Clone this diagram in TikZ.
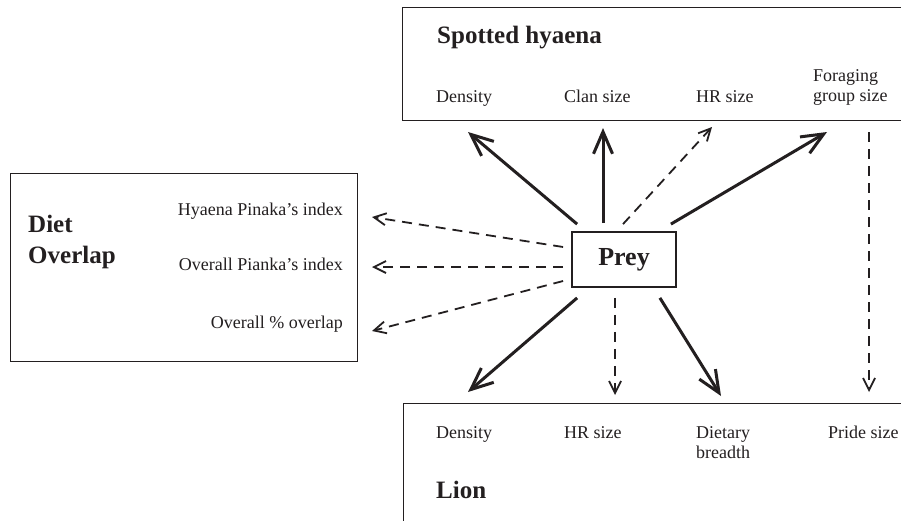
\documentclass[tikz,border=0pt]{standalone}
\usepackage{fontspec}
\setmainfont{Liberation Serif}
\usetikzlibrary{arrows.meta}
\definecolor{ink}{RGB}{35,31,32}
\begin{document}
\begin{tikzpicture}[x=1pt,y=-1pt,
  frame/.style={draw=ink,line width=1.3pt,inner sep=0pt,anchor=north west},
  lbl/.style={font=\fontsize{18}{20}\selectfont,text=ink,inner sep=0pt},
  headtxt/.style={font=\fontsize{25}{30}\selectfont\bfseries,text=ink,inner sep=0pt},
  strong/.style={draw=ink,line width=3pt,-{Straight Barb[length=22pt,width=19pt]}},
  weak/.style={draw=ink,line width=1.8pt,dash pattern=on 10pt off 7pt,-{Straight Barb[length=12pt,width=12pt]}}]
\useasboundingbox (0,0) rectangle (901,520);
\fill[white] (0,0) rectangle (901,520);

% boxes
\node[frame,minimum width=508pt,minimum height=113pt] (hy) at (402,7) {};
\node[frame,minimum width=347pt,minimum height=188pt] (diet) at (10,173) {};
\node[frame,minimum width=510pt,minimum height=130pt] (lion) at (403,403) {};
\node[draw=ink,line width=1.8pt,minimum width=104pt,minimum height=55pt,inner sep=0pt,
      font=\fontsize{26}{30}\selectfont\bfseries,text=ink] (prey) at (624,259.5) {Prey};

% Spotted hyaena texts
\node[headtxt,anchor=base west] (hyt) at (437,43) {Spotted hyaena};
\node[lbl,anchor=base west] (hd) at (436,102) {Density};
\node[lbl,anchor=base west] (hc) at (564,102) {Clan size};
\node[lbl,anchor=base west] (hh) at (696,102) {HR size};
\node[lbl,anchor=base west] (hf1) at (813,81) {Foraging};
\node[lbl,anchor=base west] (hf2) at (813,101) {group size};

% Diet overlap texts
\node[headtxt,anchor=base west] (dt1) at (28,232) {Diet};
\node[headtxt,anchor=base west] (dt2) at (28,263) {Overlap};
\node[lbl,anchor=base east] (d1) at (343,215) {Hyaena Pinaka’s index};
\node[lbl,anchor=base east] (d2) at (343,270) {Overall Pianka’s index};
\node[lbl,anchor=base east] (d3) at (343,328) {Overall \% overlap};

% Lion texts
\node[lbl,anchor=base west] (ld) at (436,438) {Density};
\node[lbl,anchor=base west] (lh) at (564,438) {HR size};
\node[lbl,anchor=base west] (lb1) at (696,438) {Dietary};
\node[lbl,anchor=base west] (lb2) at (696,458) {breadth};
\node[lbl,anchor=base west] (lp) at (828,438) {Pride size};
\node[headtxt,anchor=base west] (lt) at (436,498) {Lion};

% arrow start points around Prey
\coordinate (phd) at ([shift={(6,-7)}]prey.north west);
\coordinate (phc) at ([shift={(-21,-8)}]prey.north);
\coordinate (phh) at ([shift={(-1,-7)}]prey.north);
\coordinate (phf) at ([shift={(-6,-7)}]prey.north east);
\coordinate (pd1) at ([shift={(-8,-12.5)}]prey.west);
\coordinate (pd2) at ([shift={(-8,7.5)}]prey.west);
\coordinate (pd3) at ([shift={(-8,21.5)}]prey.west);
\coordinate (pld) at ([shift={(6,10)}]prey.south west);
\coordinate (plh) at ([shift={(-9,10)}]prey.south);
\coordinate (plb) at ([shift={(-17,10)}]prey.south east);

% arrow end points
\coordinate (ehd) at (468,132);
\coordinate (ehc) at (603,128);
\coordinate (ehh) at (712,127);
\coordinate (ehf) at (827,132);
\coordinate (ed1) at (372,217);
\coordinate (ed2) at (372,267);
\coordinate (ed3) at (372,331);
\coordinate (eld) at (468,392);
\coordinate (elh) at (615,395);
\coordinate (elb) at (721,396);
\coordinate (fgs) at (869,132);
\coordinate (fge) at (869,392);

% arrows
\draw[strong] (phd) -- (ehd);
\draw[strong] (phc) -- (ehc);
\draw[weak] (phh) -- (ehh);
\draw[strong] (phf) -- (ehf);
\draw[weak] (pd1) -- (ed1);
\draw[weak] (pd2) -- (ed2);
\draw[weak] (pd3) -- (ed3);
\draw[strong] (pld) -- (eld);
\draw[weak] (plh) -- (elh);
\draw[strong] (plb) -- (elb);
\draw[weak] (fgs) -- (fge);
\end{tikzpicture}
\end{document}
